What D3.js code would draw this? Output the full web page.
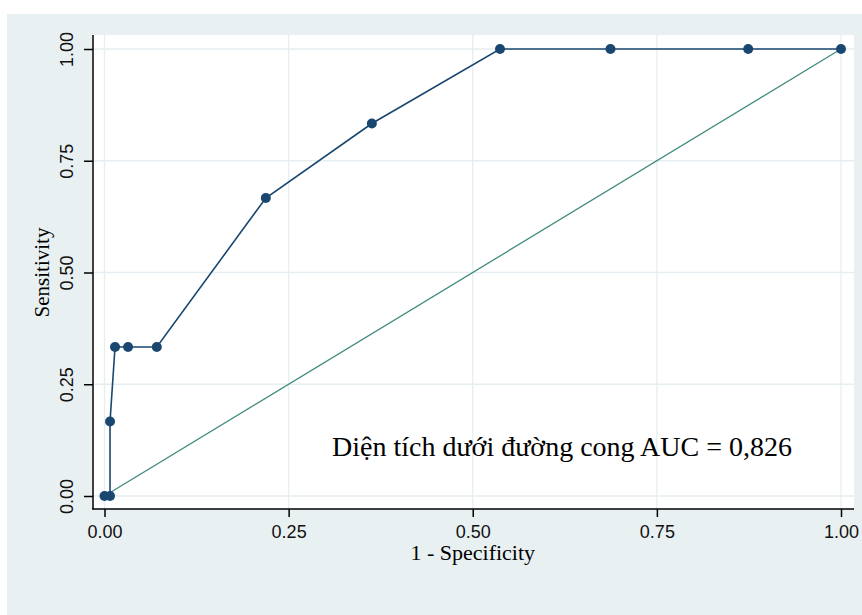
<!DOCTYPE html>
<html>
<head>
<meta charset="utf-8">
<script src="https://cdn.jsdelivr.net/npm/d3@7"></script>
<style>
  html, body { margin: 0; padding: 0; background: #ffffff; }
  svg { display: block; }
</style>
</head>
<body>
<svg id="chart" width="862" height="615"></svg>
<script>
// ---- data ----
const fpr = [0, 0.0075, 0.0075, 0.0143, 0.032, 0.071, 0.219, 0.363, 0.537, 0.687, 0.874, 1];
const tpr = [0, 0, 0.1667, 0.3333, 0.3333, 0.3333, 0.6667, 0.8333, 1, 1, 1, 1];
const xTicks = [0, 0.25, 0.5, 0.75, 1];
const yTicks = [0, 0.25, 0.5, 0.75, 1];
const xTitle = "1 - Specificity";
const yTitle = "Sensitivity";
const aucLabel = "Diện tích dưới đường cong AUC = 0,826";

// ---- layout ----
const svg = d3.select("#chart");
const W = 862, H = 615;
const plot = { left: 92, top: 35, right: 854, bottom: 509 };

const x = d3.scaleLinear().domain([0, 1]).range([104.5, 841]);
const y = d3.scaleLinear().domain([0, 1]).range([496, 49]);

// outer graph region
svg.append("rect").attr("x", 7).attr("y", 14).attr("width", W - 7).attr("height", H - 14)
  .attr("fill", "#e9f0f2");
// plot region
svg.append("rect").attr("x", plot.left).attr("y", plot.top)
  .attr("width", plot.right - plot.left).attr("height", plot.bottom - plot.top)
  .attr("fill", "#ffffff");

// gridlines
const grid = svg.append("g").attr("stroke", "#e6eef1").attr("stroke-width", 1.3);
grid.selectAll("line.gx").data(xTicks).join("line")
  .attr("x1", d => x(d)).attr("x2", d => x(d))
  .attr("y1", plot.top).attr("y2", plot.bottom);
grid.selectAll("line.gy").data(yTicks).join("line")
  .attr("x1", plot.left).attr("x2", plot.right)
  .attr("y1", d => y(d)).attr("y2", d => y(d));

// axes
const xAxis = d3.axisBottom(x).tickValues(xTicks).tickFormat(d3.format(".2f"))
  .tickSize(8).tickSizeOuter(0).tickPadding(8);
const gx = svg.append("g").attr("transform", `translate(0,${plot.bottom})`).call(xAxis);
gx.select(".domain").attr("d", `M${plot.left},0H${plot.right}`).attr("stroke", "#000").attr("stroke-width", 1.5);
gx.selectAll(".tick line").attr("stroke", "#000").attr("stroke-width", 1.5);
gx.selectAll(".tick text").attr("fill", "#111")
  .style("font-family", "'Liberation Sans', Arial, sans-serif").style("font-size", "18px");

const yAxis = d3.axisLeft(y).tickValues(yTicks).tickFormat(d3.format(".2f"))
  .tickSize(9).tickSizeOuter(0).tickPadding(0);
const gy = svg.append("g").attr("transform", `translate(${plot.left + 1},0)`).call(yAxis);
gy.select(".domain").attr("d", `M0,${plot.top}V${plot.bottom}`).attr("stroke", "#000").attr("stroke-width", 1.5);
gy.selectAll(".tick line").attr("stroke", "#000").attr("stroke-width", 1.5);
gy.selectAll(".tick text")
  .attr("x", null).attr("dy", null)
  .attr("text-anchor", "middle")
  .attr("transform", "translate(-20,0) rotate(-90)")
  .attr("fill", "#111")
  .style("font-family", "'Liberation Sans', Arial, sans-serif").style("font-size", "18px");

// reference diagonal
svg.append("line")
  .attr("x1", x(0)).attr("y1", y(0)).attr("x2", x(1)).attr("y2", y(1))
  .attr("stroke", "#3f8a7e").attr("stroke-width", 1.3);

// ROC curve
const pts = fpr.map((v, i) => [v, tpr[i]]);
svg.append("path").datum(pts)
  .attr("d", d3.line().x(d => x(d[0])).y(d => y(d[1])))
  .attr("fill", "none").attr("stroke", "#1a476f").attr("stroke-width", 1.6);
svg.selectAll("circle.pt").data(pts).join("circle")
  .attr("cx", d => x(d[0])).attr("cy", d => y(d[1])).attr("r", 5)
  .attr("fill", "#1a476f");

// titles
svg.append("text").attr("x", (x(0) + x(1)) / 2).attr("y", 560)
  .attr("text-anchor", "middle").attr("fill", "#000")
  .style("font-family", "'Liberation Serif', 'Times New Roman', serif").style("font-size", "22px")
  .text(xTitle);
svg.append("text").attr("transform", `translate(49,${(y(0) + y(1)) / 2}) rotate(-90)`)
  .attr("text-anchor", "middle").attr("fill", "#000")
  .style("font-family", "'Liberation Serif', 'Times New Roman', serif").style("font-size", "21px")
  .text(yTitle);

// AUC annotation
svg.append("text").attr("x", 332).attr("y", 456)
  .attr("fill", "#000")
  .style("font-family", "'Liberation Serif', 'Times New Roman', serif").style("font-size", "28px")
  .text(aucLabel);
</script>
</body>
</html>
